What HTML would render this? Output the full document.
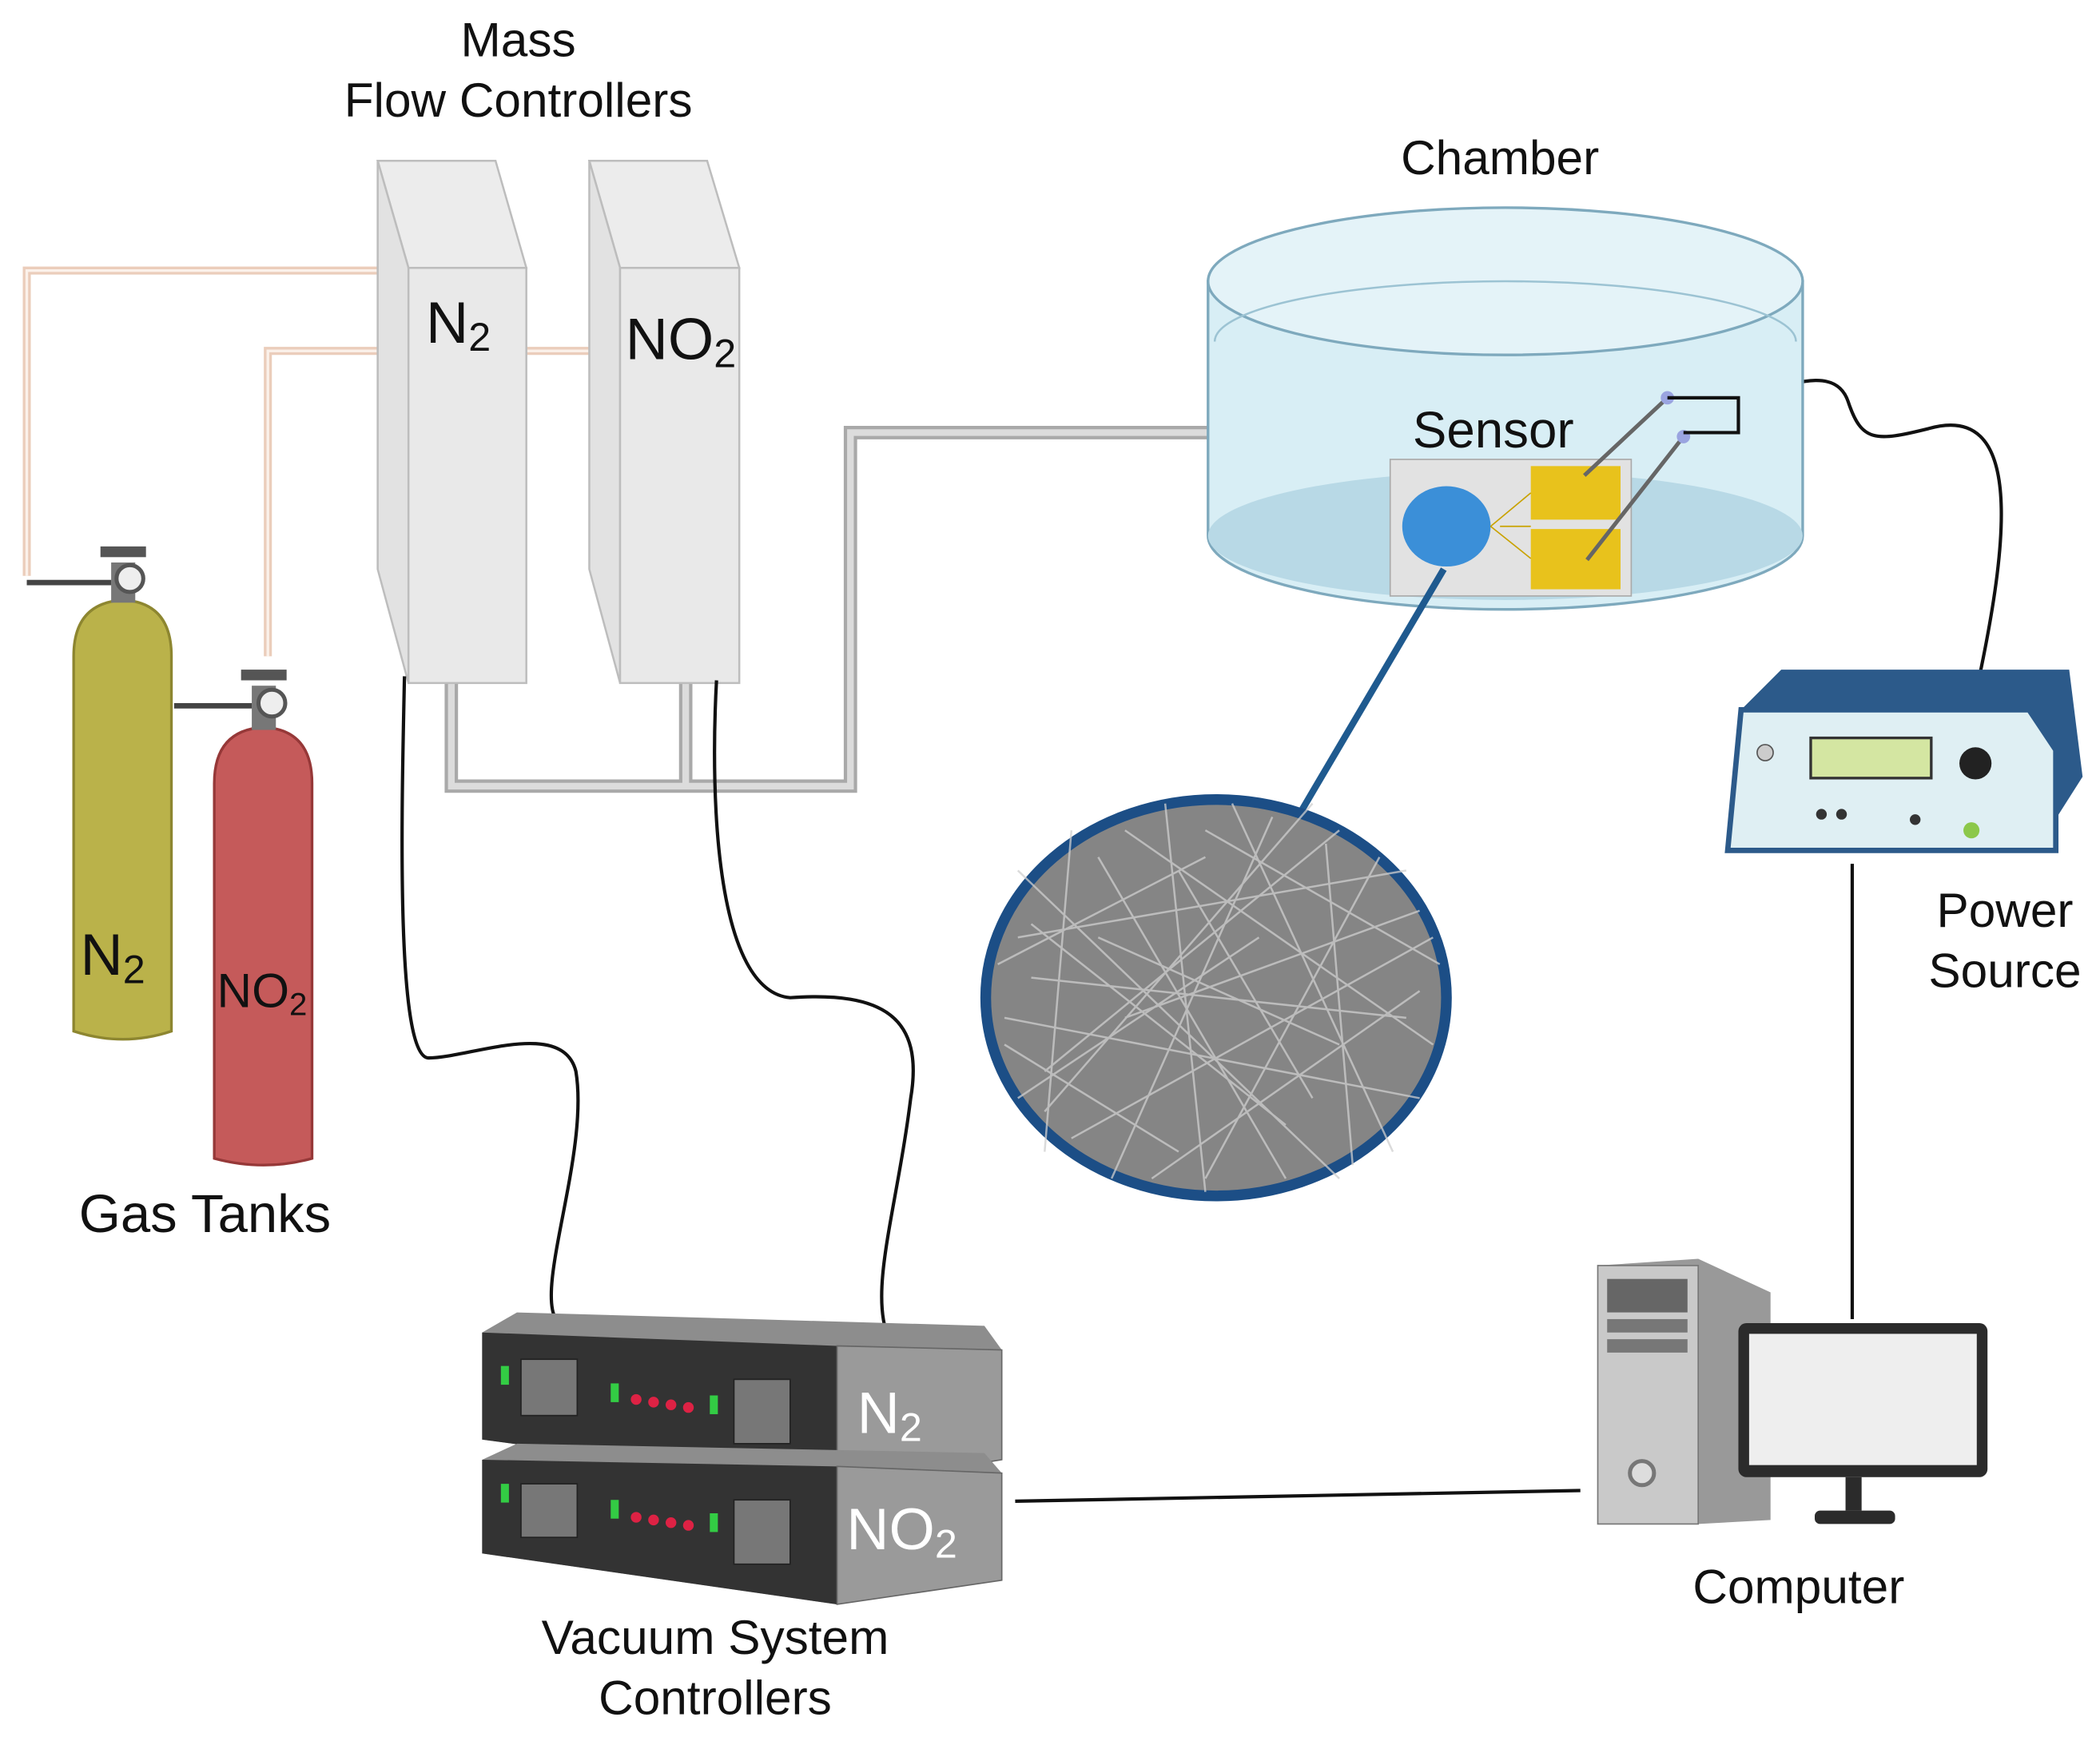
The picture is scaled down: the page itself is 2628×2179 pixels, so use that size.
<!DOCTYPE html>
<html><head><meta charset="utf-8"><style>html,body{margin:0;padding:0;background:#fff}svg{display:block}text{font-family:"Liberation Sans",sans-serif;fill:#111}</style></head>
<body>
<svg width="2628" height="2179" viewBox="0 0 1568 1300" xmlns="http://www.w3.org/2000/svg">
<!-- labels -->
<text x="387" y="42" font-size="36" text-anchor="middle">Mass</text>
<text x="387" y="87" font-size="36" text-anchor="middle">Flow Controllers</text>
<text x="1120" y="130" font-size="36" text-anchor="middle">Chamber</text>
<text x="153" y="920" font-size="40" text-anchor="middle">Gas Tanks</text>
<text x="534" y="1235" font-size="36" text-anchor="middle">Vacuum System</text>
<text x="534" y="1280" font-size="36" text-anchor="middle">Controllers</text>
<text x="1343" y="1197" font-size="36" text-anchor="middle">Computer</text>
<text x="1497" y="692" font-size="36" text-anchor="middle">Power</text>
<text x="1497" y="737" font-size="36" text-anchor="middle">Source</text>

<!-- tan pipes -->
<g fill="none" stroke="#ebcdbb" stroke-width="6"><path d="M20 430 V202 H282"/><path d="M200 490 V262 H440"/></g>
<g fill="none" stroke="#fbf1ea" stroke-width="2"><path d="M20 430 V202 H282"/><path d="M200 490 V262 H440"/></g>

<!-- gray pipes -->
<g fill="none" stroke="#a9a9a9" stroke-width="10"><path d="M337 510 V587 H635 V323 H905"/><path d="M512 510 V587"/></g>
<g fill="none" stroke="#dcdcdc" stroke-width="5"><path d="M337 510 V587 H635 V323 H905"/><path d="M512 510 V587"/></g>

<!-- MFC boxes -->
<g stroke="#bdbdbd" stroke-width="1.5">
<polygon points="282,120 370,120 393,200 305,200" fill="#ececec"/>
<polygon points="282,120 305,200 305,510 282,425" fill="#e2e2e2"/>
<rect x="305" y="200" width="88" height="310" fill="#e9e9e9"/>
<polygon points="440,120 528,120 552,200 463,200" fill="#ececec"/>
<polygon points="440,120 463,200 463,510 440,425" fill="#e2e2e2"/>
<rect x="463" y="200" width="89" height="310" fill="#e9e9e9"/>
</g>
<text x="318" y="256" font-size="44">N<tspan font-size="30" dy="6">2</tspan></text>
<text x="467" y="268" font-size="44">NO<tspan font-size="30" dy="6">2</tspan></text>

<!-- black cables -->
<g fill="none" stroke="#111" stroke-width="2.5">
<path d="M302 505 C300 600 295 790 320 790 C350 790 420 760 430 800 C440 860 400 960 415 985"/>
<path d="M535 508 C530 600 535 740 590 745 C660 740 690 760 680 820 C670 900 650 960 662 995"/>
<path d="M758 1121 L1180 1113"/>
<path d="M1383 645 V985"/>
<path d="M1298 298 C1330 290 1370 270 1380 300 C1390 330 1400 330 1440 320 C1510 300 1500 400 1478 505"/>
</g>

<!-- chamber -->
<path d="M902 210 V400 A222 55 0 0 0 1346 400 V210 Z" fill="#d8eef5" stroke="#7ea9bd" stroke-width="2"/>
<ellipse cx="1124" cy="400" rx="222" ry="48" fill="#b8d9e6"/>
<ellipse cx="1124" cy="210" rx="222" ry="55" fill="#e4f3f8" stroke="#7ea9bd" stroke-width="2"/>
<path d="M907 255 A217 45 0 0 1 1341 255" fill="none" stroke="#9cc3d3" stroke-width="1.5"/>
<text x="1115" y="334" font-size="38" text-anchor="middle">Sensor</text>
<rect x="1038" y="343" width="180" height="102" fill="#e2e2e2" stroke="#aaa"/>
<ellipse cx="1080" cy="393" rx="33" ry="30" fill="#3b8fd8"/>
<rect x="1143" y="348" width="67" height="40" fill="#e8c21c"/>
<rect x="1143" y="395" width="67" height="45" fill="#e8c21c"/>
<path d="M1113 393 L1143 368 M1113 393 L1143 417 M1120 393 H1143" stroke="#c9a200" fill="none"/>
<path d="M1183 355 L1245 297 M1185 418 L1257 326" stroke="#666" stroke-width="3"/>
<circle cx="1245" cy="297" r="5" fill="#9aa4e0"/><circle cx="1257" cy="326" r="5" fill="#9aa4e0"/>
<path d="M1245 297 H1298 V323 H1257" fill="none" stroke="#111" stroke-width="2.5"/>

<!-- SEM -->
<line x1="1078" y1="425" x2="972" y2="605" stroke="#1f5a8f" stroke-width="5"/>
<ellipse cx="908" cy="745" rx="172" ry="148" fill="#858585" stroke="#1c4e86" stroke-width="8"/>
<g stroke="#cfcfcf" stroke-width="1.5" opacity="0.75">
<path d="M760 700 L1050 650 M780 800 L1000 620 M820 640 L960 880 M750 760 L1060 820 M870 600 L900 890 M800 850 L1070 700 M760 650 L1000 880 M950 610 L830 880 M1030 640 L900 880 M770 730 L1050 760 M840 620 L1070 780 M780 830 L980 600 M745 720 L900 640 M760 820 L940 700 M860 880 L1060 740 M920 600 L1040 860 M800 620 L780 860 M990 630 L1010 870 M750 780 L880 860 M900 620 L1075 720 M820 700 L1000 780 M770 690 L960 840 M840 760 L1060 680 M880 650 L980 820"/>
</g>

<!-- power source -->
<polygon points="1300,530 1330,500 1545,500 1555,580 1520,635 1290,625" fill="#2c5a8a"/>
<path d="M1300 530 H1515 L1535 560 V635 H1290 Z" fill="#dfeff3" stroke="#2c5a8a" stroke-width="4"/>
<rect x="1352" y="551" width="90" height="30" fill="#d4e6a2" stroke="#333" stroke-width="2"/>
<circle cx="1475" cy="570" r="12" fill="#222"/>
<circle cx="1318" cy="562" r="6" fill="#ccc" stroke="#555"/>
<circle cx="1360" cy="608" r="4" fill="#333"/><circle cx="1375" cy="608" r="4" fill="#333"/><circle cx="1430" cy="612" r="4" fill="#333"/>
<circle cx="1472" cy="620" r="6" fill="#8cc84a"/>

<!-- computer -->
<polygon points="1193,945 1268,940 1322,965 1322,1135 1268,1138 1193,1135" fill="#999"/>
<rect x="1193" y="945" width="75" height="193" fill="#c9c9c9" stroke="#777"/>
<rect x="1200" y="955" width="60" height="25" fill="#666"/>
<rect x="1200" y="985" width="60" height="10" fill="#777"/>
<rect x="1200" y="1000" width="60" height="10" fill="#777"/>
<circle cx="1226" cy="1100" r="9" fill="#ddd" stroke="#777" stroke-width="3"/>
<rect x="1298" y="988" width="186" height="115" rx="6" fill="#2b2b2b"/>
<rect x="1306" y="996" width="170" height="98" fill="#eeeeee"/>
<rect x="1378" y="1103" width="12" height="25" fill="#2b2b2b"/>
<rect x="1355" y="1128" width="60" height="10" rx="4" fill="#2b2b2b"/>

<!-- vacuum controllers -->
<g>
<polygon points="360,995 386,980 735,990 748,1008 748,1090 625,1110 360,1075" fill="#8d8d8d"/>
<polygon points="360,995 625,1005 625,1110 360,1075" fill="#333"/>
<polygon points="625,1005 748,1008 748,1090 625,1110" fill="#9a9a9a" stroke="#666"/>
<polygon points="360,1090 386,1078 735,1085 748,1100 748,1180 625,1198 360,1160" fill="#8d8d8d"/>
<polygon points="360,1090 625,1095 625,1198 360,1160" fill="#333"/>
<polygon points="625,1095 748,1100 748,1180 625,1198" fill="#9a9a9a" stroke="#666"/>
<g fill="#777" stroke="#222"><rect x="389" y="1015" width="42" height="42"/><rect x="548" y="1030" width="42" height="48"/><rect x="389" y="1108" width="42" height="40"/><rect x="548" y="1120" width="42" height="48"/></g>
<g fill="#d24" ><circle cx="475" cy="1045" r="4"/><circle cx="488" cy="1047" r="4"/><circle cx="501" cy="1049" r="4"/><circle cx="514" cy="1051" r="4"/><circle cx="475" cy="1133" r="4"/><circle cx="488" cy="1135" r="4"/><circle cx="501" cy="1137" r="4"/><circle cx="514" cy="1139" r="4"/></g>
<g fill="#3c4"><rect x="374" y="1020" width="6" height="14"/><rect x="456" y="1033" width="6" height="14"/><rect x="530" y="1042" width="6" height="14"/><rect x="374" y="1108" width="6" height="14"/><rect x="456" y="1120" width="6" height="14"/><rect x="530" y="1130" width="6" height="14"/></g>
<text x="640" y="1070" font-size="44" style="fill:#fff">N<tspan font-size="30" dy="6">2</tspan></text>
<text x="632" y="1157" font-size="44" style="fill:#fff">NO<tspan font-size="30" dy="6">2</tspan></text>
</g>

<!-- gas tanks -->
<path d="M55 490 Q55 450 92 448 Q128 450 128 490 V770 Q92 782 55 770 Z" fill="#bab24a" stroke="#8d8630" stroke-width="2"/>
<rect x="83" y="420" width="18" height="30" fill="#777"/>
<rect x="75" y="408" width="34" height="8" fill="#555"/>
<circle cx="97" cy="432" r="10" fill="#eee" stroke="#555" stroke-width="3"/>
<path d="M20 435 H83" stroke="#444" stroke-width="4"/>
<text x="60" y="728" font-size="44">N<tspan font-size="30" dy="6">2</tspan></text>
<path d="M160 585 Q160 545 197 543 Q233 545 233 585 V865 Q197 875 160 865 Z" fill="#c55a5a" stroke="#963838" stroke-width="2"/>
<rect x="188" y="512" width="18" height="33" fill="#777"/>
<rect x="180" y="500" width="34" height="8" fill="#555"/>
<circle cx="203" cy="525" r="10" fill="#eee" stroke="#555" stroke-width="3"/>
<path d="M130 527 H188" stroke="#444" stroke-width="4"/>
<text x="162" y="752" font-size="36">NO<tspan font-size="24" dy="6">2</tspan></text>
</svg>
</body></html>
